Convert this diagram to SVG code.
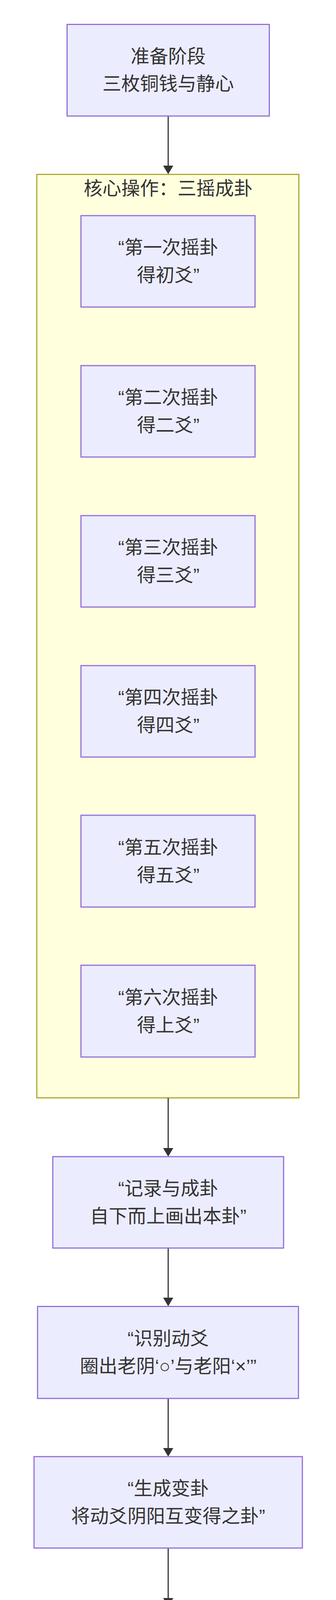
<svg xmlns="http://www.w3.org/2000/svg" width="859" height="4794" viewBox="0 0 859 4794">
<style>
.node rect{fill:#ECECFF;stroke:#9370DB;stroke-width:3}
.cluster rect{fill:#FFFFDE;stroke:#AAAA33;stroke-width:3}
text{font-family:"Liberation Sans","Noto Sans CJK SC",sans-serif;font-size:48px;fill:#333333;text-anchor:middle;dominant-baseline:central}
.edge{stroke:#333333;stroke-width:3;fill:none}
.wm{font-family:"Noto Sans CJK SC",sans-serif;font-size:21px;fill:#ffffff;stroke:#6a6a6a;stroke-width:0.9;text-anchor:start}
</style>
<defs>
<marker id="arrow" viewBox="0 0 22 26" markerWidth="22" markerHeight="26" refX="17" refY="13" orient="auto" markerUnits="userSpaceOnUse">
<path d="M0,0 L22,13 L0,26 z" fill="#333333"/>
</marker>
</defs>
<rect width="859" height="4794" fill="#ffffff"/>

<g id="cluster-core" class="cluster">
<rect x="94" y="446.5" width="670" height="2364"/>
<text x="430" y="482">核心操作：三摇成卦</text>
</g>

<g id="connectors">
<path class="edge" d="M430,297 L430,441" marker-end="url(#arrow)"/>
<path class="edge" d="M430,2811 L430,2956" marker-end="url(#arrow)"/>
<path class="edge" d="M430,3195 L430,3339" marker-end="url(#arrow)"/>
<path class="edge" d="M430,3580 L430,3724" marker-end="url(#arrow)"/>
<path class="edge" d="M430,3963 L430,4108" marker-end="url(#arrow)"/>
<path class="edge" d="M430,4348 L430,4492" marker-end="url(#arrow)"/>
</g>

<g id="node-prepare" class="node">
<rect x="171.5" y="62.5" width="517" height="234.5"/>
<text x="430" y="144">准备阶段</text>
<text x="430" y="214">三枚铜钱与静心</text>
</g>

<g id="node-shake1" class="node">
<rect x="207" y="552" width="445" height="234"/>
<text x="430" y="633">“第一次摇卦</text>
<text x="430" y="704">得初爻”</text>
</g>
<g id="node-shake2" class="node">
<rect x="207" y="936" width="445" height="234"/>
<text x="430" y="1017">“第二次摇卦</text>
<text x="430" y="1088">得二爻”</text>
</g>
<g id="node-shake3" class="node">
<rect x="207" y="1320" width="445" height="234"/>
<text x="430" y="1401">“第三次摇卦</text>
<text x="430" y="1472">得三爻”</text>
</g>
<g id="node-shake4" class="node">
<rect x="207" y="1704" width="445" height="234"/>
<text x="430" y="1785">“第四次摇卦</text>
<text x="430" y="1856">得四爻”</text>
</g>
<g id="node-shake5" class="node">
<rect x="207" y="2087" width="445" height="235"/>
<text x="430" y="2169">“第五次摇卦</text>
<text x="430" y="2240">得五爻”</text>
</g>
<g id="node-shake6" class="node">
<rect x="207" y="2471" width="445" height="235"/>
<text x="430" y="2553">“第六次摇卦</text>
<text x="430" y="2624">得上爻”</text>
</g>

<g id="node-record" class="node">
<rect x="135" y="2961" width="590" height="234"/>
<text x="430" y="3042">“记录与成卦</text>
<text x="430" y="3113">自下而上画出本卦”</text>
</g>
<g id="node-moving" class="node">
<rect x="96" y="3344.5" width="667" height="235.5"/>
<text x="430" y="3426">“识别动爻</text>
<text x="430" y="3497">圈出老阴‘○’与老阳‘×’”</text>
</g>
<g id="node-change" class="node">
<rect x="87" y="3729" width="686" height="234"/>
<text x="430" y="3810">“生成变卦</text>
<text x="430" y="3881">将动爻阴阳互变得之卦”</text>
</g>
<g id="node-najia" class="node">
<rect x="62" y="4113" width="735" height="235"/>
<text x="430" y="4195">“纳甲装卦</text>
<text x="430" y="4266">装入干支、世应、六亲等”</text>
</g>
<g id="node-judge" class="node">
<rect x="111" y="4497" width="638" height="234"/>
<text x="430" y="4578">“综合断卦</text>
<text x="430" y="4649">结合问项与卦象解析”</text>
</g>

<text class="wm" x="660" y="4763" textLength="182" lengthAdjust="spacingAndGlyphs">头条 @似水归藏录</text>
</svg>
